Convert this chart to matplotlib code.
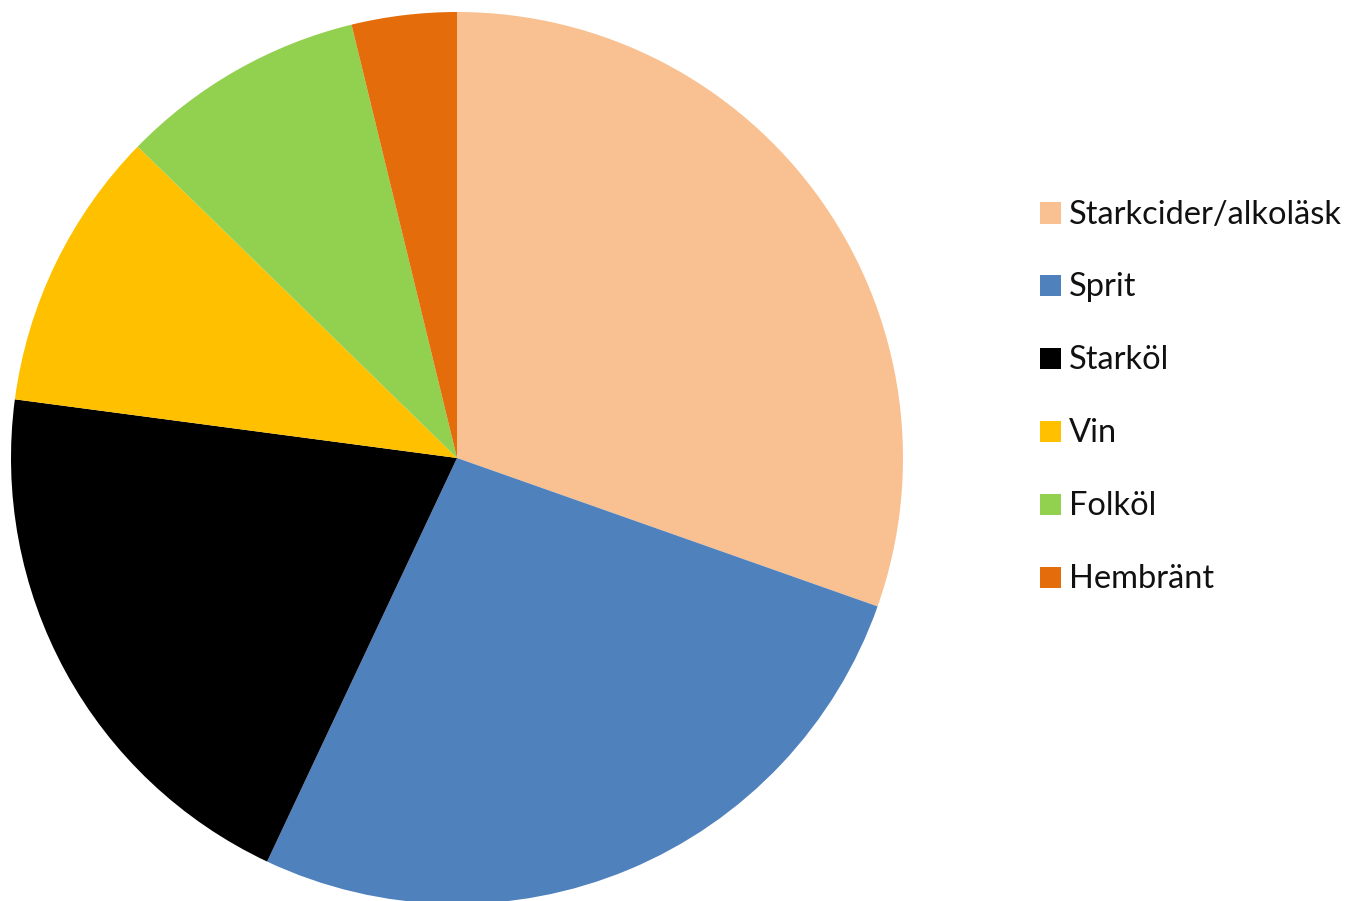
import matplotlib
matplotlib.use("Agg")
from matplotlib import pyplot as plt
from matplotlib.patches import Rectangle

# share of each category (percent), clockwise from 12 o'clock
labels = ["Starkcider/alkoläsk", "Sprit", "Starköl", "Vin", "Folköl", "Hembränt"]
shares = [30.4, 26.6, 20.1, 10.2, 8.9, 3.8]
colors = ["#F9C192", "#4F81BD", "#000000", "#FFC000", "#92D050", "#E46C0A"]

W, H = 1351, 901
fig = plt.figure(figsize=(W / 100, H / 100), dpi=100)

# pie: centre (457, 458) px, radius 446 px
cx, cy, r = 457, 458, 446
ax = fig.add_axes([(cx - r) / W, (H - cy - r) / H, 2 * r / W, 2 * r / H])
ax.pie(shares, colors=colors, startangle=90, counterclock=False, radius=1.0,
       wedgeprops=dict(linewidth=0))
ax.set_xlim(-1, 1)
ax.set_ylim(-1, 1)
ax.set_aspect("equal")
ax.axis("off")

# legend drawn by hand
leg_y0, leg_dy = 213, 72.8
for i, (lab, col) in enumerate(zip(labels, colors)):
    y = leg_y0 + i * leg_dy
    fig.patches.append(Rectangle(((1040) / W, (H - y - 10.5) / H), 21 / W, 21 / H,
                                 transform=fig.transFigure, facecolor=col,
                                 edgecolor="none"))
    fig.text(1069 / W, (H - y - 1.5) / H, lab, fontsize=23.5, family="Lato",
             color="#111111", va="center", ha="left")

fig.savefig("out.png", dpi=100)
